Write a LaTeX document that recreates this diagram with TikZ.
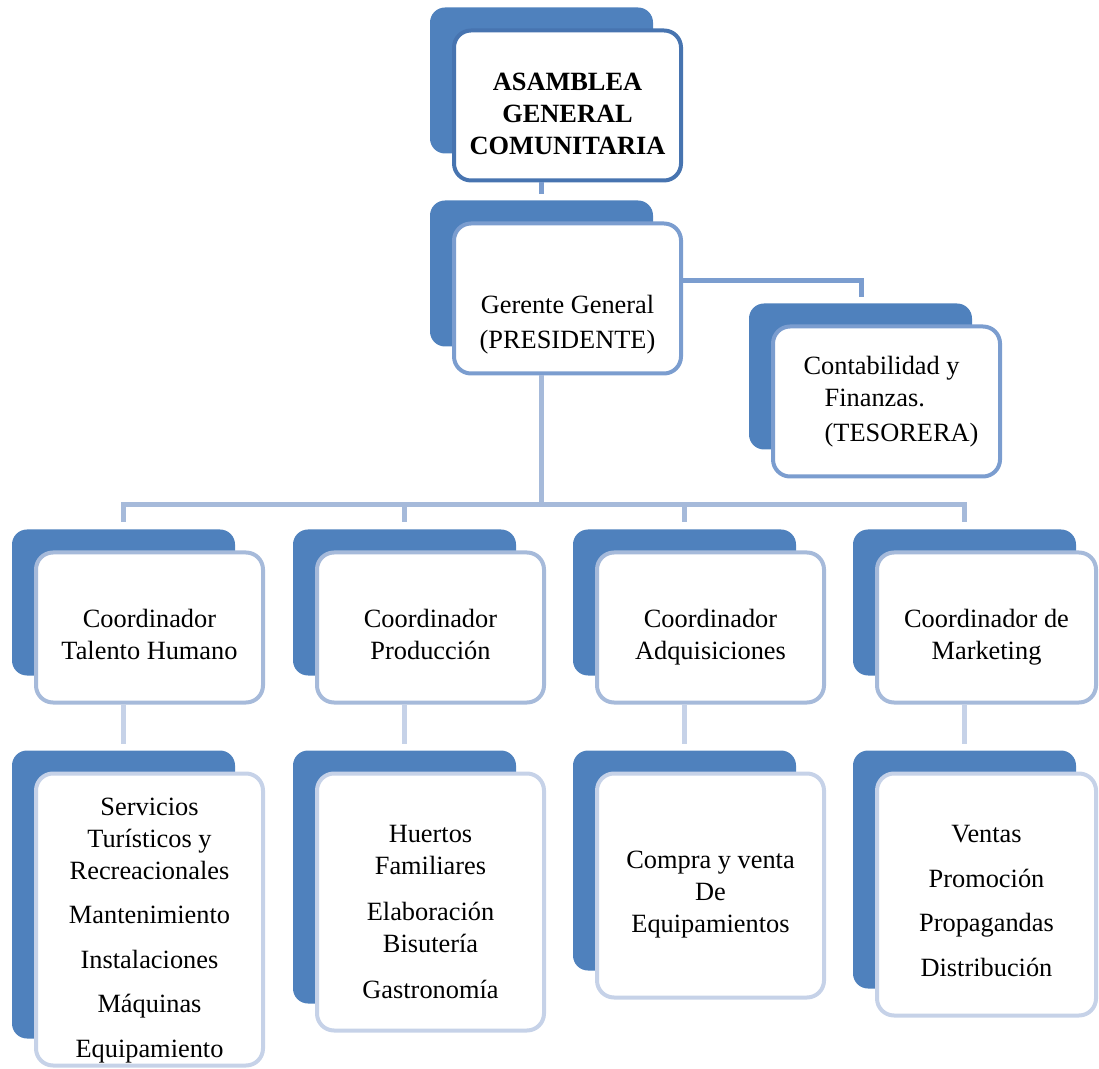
\documentclass[tikz,border=0pt]{standalone}
\usepackage{fontspec}
\setmainfont{Liberation Serif}
\usetikzlibrary{positioning,calc,backgrounds}

\definecolor{accent}{RGB}{79,129,189}
\definecolor{lineA}{RGB}{71,116,176}
\definecolor{lineB}{RGB}{123,157,207}
\definecolor{lineC}{RGB}{166,186,218}
\definecolor{lineD}{RGB}{198,210,232}

\begin{document}
\begin{tikzpicture}[
    node distance=1cm,
    orgbox/.style={rectangle, rounded corners=0.34cm, line width=0.08cm, fill=white, minimum width=4.54cm, minimum height=3cm, align=center, inner sep=0pt, font=\fontsize{15}{18.2}\selectfont},
    lvl0/.style={orgbox, draw=lineA},
    lvl1/.style={orgbox, draw=lineB},
    lvl2/.style={orgbox, draw=lineC},
    lvl3/.style={orgbox, draw=lineD},
    backbox/.style={fill=accent, rounded corners=0.3cm},
    link1/.style={draw=lineB, line width=0.1cm},
    link2/.style={draw=lineC, line width=0.1cm},
    link3/.style={draw=lineD, line width=0.1cm}
]
\useasboundingbox (0,0) rectangle (21.98,21.36);

% Asamblea and management
\node[lvl0, font=\fontsize{15}{18.2}\selectfont\bfseries] (asamblea) at (11.35,19.25) {\rule{0pt}{0.67cm}ASAMBLEA\\GENERAL\\COMUNITARIA};
\node[lvl1, below=0.78cm of asamblea] (gerente) {\rule{0pt}{1.42cm}Gerente General\\[0.06cm](PRESIDENTE)};
\node[lvl1, align=left, below right=2.06cm and 1.76cm of gerente.north east] (tesoreria) {\hspace*{0.18cm}Contabilidad y\\\hspace*{0.6cm}Finanzas.\\[0.06cm]\hspace*{0.6cm}(TESORERA)};

% Coordinators
\node[lvl2, below left=3.5cm and 6.05cm of gerente.south] (coord1) {\rule{0pt}{0.65cm}Coordinador\\Talento Humano};
\node[lvl2, right=of coord1] (coord2) {\rule{0pt}{0.65cm}Coordinador\\Producción};
\node[lvl2, right=0.98cm of coord2] (coord3) {\rule{0pt}{0.76cm}Coordinador\\Adquisiciones};
\node[lvl2, minimum width=4.38cm, right=0.98cm of coord3] (coord4) {\rule{0pt}{0.76cm}Coordinador de\\Marketing};

% Areas
\node[lvl3, minimum height=5.84cm, below=1.34cm of coord1] (area1) {\rule{0pt}{0.78cm}Servicios\\Turísticos y\\Recreacionales\\[0.25cm]Mantenimiento\\[0.25cm]Instalaciones\\[0.25cm]Máquinas\\[0.25cm]Equipamiento};
\node[lvl3, minimum height=5.14cm, below=1.34cm of coord2] (area2) {\rule{0pt}{0.74cm}Huertos\\Familiares\\[0.28cm]Elaboración\\Bisutería\\[0.28cm]Gastronomía};
\node[lvl3, minimum height=4.48cm, below=1.34cm of coord3] (area3) {\rule{0pt}{0.72cm}Compra y venta\\De\\Equipamientos};
\node[lvl3, minimum height=4.84cm, minimum width=4.38cm, below=1.34cm of coord4] (area4) {\rule{0pt}{0.61cm}Ventas\\[0.25cm]Promoción\\[0.25cm]Propagandas\\[0.25cm]Distribución};

% Back plates
\begin{scope}[on background layer]
\foreach \nm in {asamblea,gerente,tesoreria,coord1,coord2,coord3,coord4,area1,area2,area3,area4}
  \fill[backbox] let \p1=(\nm.north west), \p2=(\nm.south east) in (\x1-0.44cm,\y1+0.42cm) rectangle (\x1+4.02cm,\y2+0.58cm);
\end{scope}

% Connectors
\draw[link1] ([xshift=1.78cm]asamblea.south west) -- ([xshift=1.78cm,yshift=0.54cm]gerente.north west);
\draw[link1] ([yshift=-1.18cm]gerente.north east) -| ([xshift=1.8cm,yshift=0.54cm]tesoreria.north west);
\foreach \c in {coord1,coord2,coord3,coord4}
  \draw[link2] ([xshift=1.78cm]gerente.south west) |- ([xshift=1.78cm,yshift=0.92cm]\c.north west) -- ([xshift=1.78cm,yshift=0.56cm]\c.north west);
\foreach \c/\a in {coord1/area1,coord2/area2,coord3/area3,coord4/area4}
  \draw[link3] ([xshift=1.78cm]\c.south west) -- ([xshift=1.78cm,yshift=0.56cm]\a.north west);

\end{tikzpicture}
\end{document}
